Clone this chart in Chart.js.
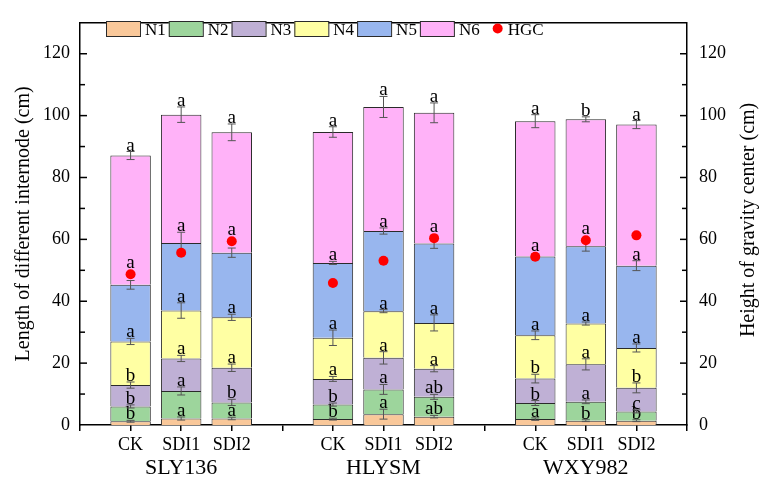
<!DOCTYPE html>
<html><head><meta charset="utf-8">
<script src="https://cdn.jsdelivr.net/npm/chart.js@4"></script>
<style>html,body{margin:0;padding:0;background:#fff;} #wrap{width:761px;height:479px;}</style>
</head><body><div id="wrap"><canvas id="c" width="761" height="479"></canvas></div>
<script>
// ---- data ----
const groups = ['SLY136', 'HLYSM', 'WXY982'];
const treatments = ['CK', 'SDI1', 'SDI2'];
const seriesNames = ['N1', 'N2', 'N3', 'N4', 'N5', 'N6'];
const yTickValues = [0, 20, 40, 60, 80, 100, 120];
// internode lengths (cm), order: SLY136 CK/SDI1/SDI2, HLYSM CK/SDI1/SDI2, WXY982 CK/SDI1/SDI2
const N1 = [1.2, 2.1, 2.1, 1.9, 3.5, 2.7, 1.9, 1.4, 1.4];
const N2 = [4.8, 8.9, 5.2, 4.7, 8.0, 6.4, 5.2, 6.1, 3.0];
const N3 = [6.9, 10.5, 11.2, 8.3, 10.2, 9.1, 7.9, 12.1, 7.6];
const N4 = [14.1, 15.5, 16.3, 13.3, 15.1, 14.8, 14.0, 13.2, 12.9];
const N5 = [18.3, 21.8, 20.9, 24.2, 25.9, 25.7, 25.5, 25.0, 26.6];
const N6 = [41.8, 41.5, 38.9, 42.3, 40.1, 42.2, 43.7, 41.0, 45.6];
const HGC = [48.7, 55.7, 59.4, 45.9, 53.1, 60.4, 54.4, 59.7, 61.3];
// error bars (±, cm)
const N1err = [0.3, 0.5, 0.4, 0.3, 1.6, 0.4, 0.4, 0.3, 0.3];
const N2err = [0.5, 1.3, 1.0, 0.5, 1.6, 0.8, 0.8, 0.6, 0.5];
const N3err = [1.0, 1.0, 1.2, 0.8, 2.0, 1.0, 1.4, 1.8, 1.6];
const N4err = [1.0, 2.5, 1.0, 2.5, 0.5, 2.6, 1.4, 0.5, 1.3];
const N5err = [1.4, 3.5, 1.5, 0.5, 1.0, 1.6, 0.8, 1.6, 1.6];
const N6err = [1.3, 2.5, 2.7, 1.7, 3.4, 3.2, 2.1, 0.8, 1.3];
// significance letters
const N1sig = ['b', 'a', 'a', 'b', 'a', 'ab', 'a', 'b', 'b'];
const N2sig = ['b', 'a', 'b', 'b', 'a', 'ab', 'b', 'a', 'c'];
const N3sig = ['b', 'a', 'a', 'a', 'a', 'a', 'b', 'a', 'b'];
const N4sig = ['a', 'a', 'a', 'a', 'a', 'a', 'a', 'a', 'a'];
const N5sig = ['a', 'a', 'a', 'a', 'a', 'a', 'a', 'a', 'a'];
const N6sig = ['a', 'a', 'a', 'a', 'a', 'a', 'a', 'b', 'a'];

const segs = [N1, N2, N3, N4, N5, N6];
const errs = [N1err, N2err, N3err, N4err, N5err, N6err];
const sigs = [N1sig, N2sig, N3sig, N4sig, N5sig, N6sig];
const colors = ['#F9C89A', '#9DD59C', '#BFB0D5', '#FFFFA3', '#98B6EE', '#FFB2F8'];
const FONT = '"Liberation Serif", "Times New Roman", serif';

// category slots: blank slot between groups and at both ends
const xLabels = [''];
const groupRow = [''];
groups.forEach(g => {
  treatments.forEach((t, k) => { xLabels.push(t); groupRow.push(k === 1 ? g : ''); });
  xLabels.push(''); groupRow.push('');
});
const slotOf = i => 1 + Math.floor(i / 3) * 4 + (i % 3);
const toSlots = arr => { const out = new Array(xLabels.length).fill(null); arr.forEach((v, i) => { out[slotOf(i)] = v; }); return out; };

const datasets = segs.map((arr, s) => ({
  type: 'bar', label: seriesNames[s], data: toSlots(arr),
  backgroundColor: colors[s], borderColor: '#2a2a2a', borderWidth: 1,
  barPercentage: 0.8, categoryPercentage: 1.0, yAxisID: 'y', order: 0
}));
datasets.push({
  type: 'line', label: 'HGC', data: toSlots(HGC), yAxisID: 'y1', showLine: false,
  pointRadius: 5, pointHoverRadius: 5, pointBackgroundColor: '#FF0000', pointBorderWidth: 0,
  borderColor: '#FF0000', order: -1
});

// ---- plugins ----
const errPlugin = {
  id: 'errLetters',
  afterDatasetDraw(chart, args) {
    if (args.index !== 0) return;
    const ctx = chart.ctx, y = chart.scales.y, y1 = chart.scales.y1;
    ctx.save();
    for (let i = 0; i < N1.length; i++) {
      const slot = slotOf(i);
      const hgcPx = y1.getPixelForValue(HGC[i]);
      let cum = 0;
      for (let s = 0; s < segs.length; s++) {
        cum += segs[s][i];
        const el = chart.getDatasetMeta(s).data[slot];
        const px = el.x;
        const topPx = y.getPixelForValue(cum + errs[s][i]);
        const botPx = y.getPixelForValue(cum - errs[s][i]);
        ctx.strokeStyle = '#555';
        ctx.lineWidth = 1;
        ctx.beginPath();
        ctx.moveTo(px, topPx); ctx.lineTo(px, botPx);
        ctx.moveTo(px - 4, topPx); ctx.lineTo(px + 4, topPx);
        ctx.moveTo(px - 4, botPx); ctx.lineTo(px + 4, botPx);
        ctx.stroke();
        let base = topPx - 1;
        const r = 5;
        if (hgcPx + r > base - 14 && hgcPx - r < base + 2) base = Math.min(base, hgcPx - r - 1);
        ctx.fillStyle = '#000';
        ctx.font = '19px ' + FONT;
        ctx.textAlign = 'center';
        ctx.textBaseline = 'alphabetic';
        ctx.fillText(sigs[s][i], px, base);
      }
    }
    ctx.restore();
  },
  afterDraw(chart) {
    const ctx = chart.ctx, ca = chart.chartArea;
    ctx.save();
    // top frame
    ctx.strokeStyle = '#000'; ctx.lineWidth = 1.5;
    ctx.beginPath(); ctx.moveTo(ca.left, ca.top); ctx.lineTo(ca.right, ca.top); ctx.stroke();
    // inward ticks on both y axes
    ['y', 'y1'].forEach(id => {
      const sc = chart.scales[id];
      sc.ticks.forEach(t => {
        if (t.value <= 0 || t.value >= sc.max) return;
        const py = sc.getPixelForValue(t.value);
        const len = yTickValues.includes(t.value) ? 7 : 5;
        ctx.beginPath();
        if (id === 'y') { ctx.moveTo(ca.left, py); ctx.lineTo(ca.left + len, py); }
        else { ctx.moveTo(ca.right, py); ctx.lineTo(ca.right - len, py); }
        ctx.stroke();
      });
    });
    // right axis title (reads bottom-to-top)
    ctx.fillStyle = '#000';
    ctx.font = '20px ' + FONT;
    ctx.translate(749, (ca.top + ca.bottom) / 2 - 4);
    ctx.rotate(-Math.PI / 2);
    ctx.textAlign = 'center'; ctx.textBaseline = 'middle';
    ctx.fillText('Height of gravity center (cm)', 0, 0);
    ctx.restore();
    // legend
    ctx.save();
    ctx.font = '17px ' + FONT;
    ctx.textBaseline = 'alphabetic'; ctx.textAlign = 'left';
    let lx = 106; const ly = 21, lbase = 35;
    seriesNames.forEach((n, s) => {
      ctx.fillStyle = colors[s];
      ctx.fillRect(lx, ly, 34, 15);
      ctx.strokeStyle = '#2a2a2a'; ctx.lineWidth = 1;
      ctx.strokeRect(lx + 0.5, ly + 0.5, 34, 15);
      lx += 39;
      ctx.fillStyle = '#000';
      ctx.fillText(n, lx, lbase);
      lx += ctx.measureText(n).width + 3;
    });
    ctx.fillStyle = '#FF0000';
    ctx.beginPath(); ctx.arc(lx + 15, ly + 7.5, 5, 0, Math.PI * 2); ctx.fill();
    ctx.fillStyle = '#000';
    ctx.fillText('HGC', lx + 25, lbase);
    ctx.restore();
  }
};

Chart.defaults.font.family = FONT;
Chart.defaults.color = '#000';

new Chart(document.getElementById('c'), {
  data: { labels: xLabels, datasets },
  options: {
    responsive: false, animation: false, devicePixelRatio: 1,
    layout: { padding: { top: 12, left: 0, right: 0, bottom: 0 } },
    plugins: { legend: { display: false }, tooltip: { enabled: false } },
    scales: {
      x: {
        type: 'category', stacked: true, offset: false, position: 'bottom',
        grid: { offset: false, drawOnChartArea: false, drawTicks: true, tickLength: 6, color: '#000', lineWidth: 1.5 },
        border: { display: true, color: '#000', width: 1.5 },
        ticks: { autoSkip: false, maxRotation: 0, padding: 3, font: { size: 18 }, color: '#000' },
        afterFit: s => { s.height = 30; }
      },
      x2: {
        type: 'category', labels: groupRow, offset: false, position: 'bottom',
        grid: { display: false, drawTicks: false }, border: { display: false },
        ticks: { autoSkip: false, maxRotation: 0, padding: 0, font: { size: 22 }, color: '#000' },
        afterFit: s => { s.height = 24; }
      },
      y: {
        type: 'linear', stacked: true, position: 'left', min: 0, max: 130,
        grid: { display: false, drawTicks: false },
        border: { display: true, color: '#000', width: 1.5 },
        ticks: { stepSize: 10, padding: 10, font: { size: 18 }, color: '#000',
          callback: v => yTickValues.includes(v) ? String(v) : '' },
        title: { display: true, text: 'Length of different internode (cm)', font: { size: 20 }, color: '#000', padding: { top: 12, bottom: 0 } },
        afterFit: s => { s.width = 80; }
      },
      y1: {
        type: 'linear', position: 'right', min: 0, max: 130,
        grid: { display: false, drawTicks: false },
        border: { display: true, color: '#000', width: 1.5 },
        ticks: { stepSize: 10, padding: 12, font: { size: 18 }, color: '#000',
          callback: v => yTickValues.includes(v) ? String(v) : '' },
        afterFit: s => { s.width = 74; }
      }
    }
  },
  plugins: [errPlugin]
});
</script>
</body></html>
